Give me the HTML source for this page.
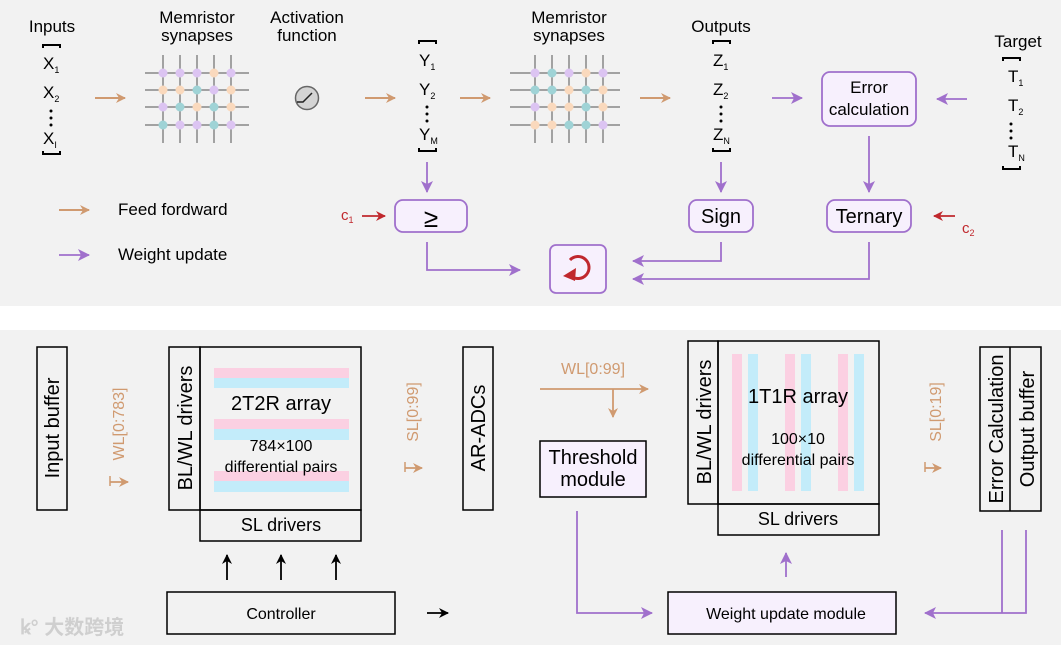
<!DOCTYPE html>
<html><head><meta charset="utf-8"><style>
body{margin:0;background:#fff}
svg{display:block;font-family:"Liberation Sans","Noto Sans CJK SC",sans-serif}
</style></head><body>
<svg width="1061" height="645" viewBox="0 0 1061 645" xmlns="http://www.w3.org/2000/svg">
<defs>
<marker id="ao" markerWidth="10" markerHeight="10" refX="9" refY="5" orient="auto" markerUnits="userSpaceOnUse"><path d="M0,0 L10,5 L0,10 L3,5z" fill="#d09a70"/></marker>
<marker id="ap" markerWidth="12" markerHeight="12" refX="11" refY="6" orient="auto" markerUnits="userSpaceOnUse"><path d="M0,0 L12,6 L0,12 L3,6z" fill="#a070cc"/></marker>
<marker id="ar" markerWidth="10" markerHeight="10" refX="9" refY="5" orient="auto" markerUnits="userSpaceOnUse"><path d="M0,0 L10,5 L0,10 L3,5z" fill="#c0282d"/></marker>
<marker id="ak" markerWidth="10" markerHeight="10" refX="9" refY="5" orient="auto" markerUnits="userSpaceOnUse"><path d="M0,0 L10,5 L0,10 L3,5z" fill="#000"/></marker>
</defs>
<rect x="0" y="0" width="1061" height="306" fill="#f2f2f2"/>
<rect x="0" y="330" width="1061" height="315" fill="#f2f2f2"/>

<g font-size="17" fill="#000" text-anchor="middle">
<text x="52" y="32">Inputs</text>
<text x="197" y="23">Memristor</text><text x="197" y="41">synapses</text>
<text x="307" y="23">Activation</text><text x="307" y="41">function</text>
<text x="569" y="23">Memristor</text><text x="569" y="41">synapses</text>
<text x="721" y="32">Outputs</text>
<text x="1018" y="47">Target</text>
</g>

<g fill="none" stroke="#000" stroke-width="2">
<path d="M43,45 h17 M43,44 v4 M60,44 v4 M43,154 h17 M43,155 v-4 M60,155 v-4"/>
<path d="M419,41 h17 M419,40 v4 M436,40 v4 M419,151 h17 M419,152 v-4 M436,152 v-4"/>
<path d="M713,41 h17 M713,40 v4 M730,40 v4 M713,151 h17 M713,152 v-4 M730,152 v-4"/>
<path d="M1003,58 h17 M1003,57 v4 M1020,57 v4 M1003,169 h17 M1003,170 v-4 M1020,170 v-4"/>
</g>
<g font-size="17" fill="#000">
<text x="43" y="69">X<tspan font-size="9" dy="4">1</tspan></text>
<text x="43" y="98">X<tspan font-size="9" dy="4">2</tspan></text>
<text x="43" y="144">X<tspan font-size="9" dy="4">I</tspan></text>
<text x="419" y="66">Y<tspan font-size="9" dy="4">1</tspan></text>
<text x="419" y="95">Y<tspan font-size="9" dy="4">2</tspan></text>
<text x="419" y="140">Y<tspan font-size="9" dy="4">M</tspan></text>
<text x="713" y="66">Z<tspan font-size="9" dy="4">1</tspan></text>
<text x="713" y="95">Z<tspan font-size="9" dy="4">2</tspan></text>
<text x="713" y="140">Z<tspan font-size="9" dy="4">N</tspan></text>
<text x="1008" y="82">T<tspan font-size="9" dy="4">1</tspan></text>
<text x="1008" y="111">T<tspan font-size="9" dy="4">2</tspan></text>
<text x="1008" y="157">T<tspan font-size="9" dy="4">N</tspan></text>
</g>
<g fill="#000">
<circle cx="51" cy="111" r="1.5"/><circle cx="51" cy="118" r="1.5"/><circle cx="51" cy="125" r="1.5"/>
<circle cx="427" cy="107" r="1.5"/><circle cx="427" cy="114" r="1.5"/><circle cx="427" cy="121" r="1.5"/>
<circle cx="721" cy="107" r="1.5"/><circle cx="721" cy="114" r="1.5"/><circle cx="721" cy="121" r="1.5"/>
<circle cx="1011" cy="124" r="1.5"/><circle cx="1011" cy="131" r="1.5"/><circle cx="1011" cy="138" r="1.5"/>
</g>

<g stroke="#888" stroke-width="1.5">
<path d="M163,55v88M180,55v88M197,55v88M214,55v88M231,55v88M145,73h104M145,90h104M145,107h104M145,125h104"/>
<path d="M535,55v88M552,55v88M569,55v88M586,55v88M603,55v88M510,73h110M510,90h110M510,107h110M510,125h110"/>
</g>
<g>
<circle cx="163" cy="73" r="4.5" fill="#dcc4f2"/><circle cx="180" cy="73" r="4.5" fill="#dcc4f2"/><circle cx="197" cy="73" r="4.5" fill="#dcc4f2"/><circle cx="214" cy="73" r="4.5" fill="#fad9bd"/><circle cx="231" cy="73" r="4.5" fill="#dcc4f2"/>
<circle cx="163" cy="90" r="4.5" fill="#fad9bd"/><circle cx="180" cy="90" r="4.5" fill="#fad9bd"/><circle cx="197" cy="90" r="4.5" fill="#9fd3d6"/><circle cx="214" cy="90" r="4.5" fill="#dcc4f2"/><circle cx="231" cy="90" r="4.5" fill="#fad9bd"/>
<circle cx="163" cy="107" r="4.5" fill="#dcc4f2"/><circle cx="180" cy="107" r="4.5" fill="#9fd3d6"/><circle cx="197" cy="107" r="4.5" fill="#fad9bd"/><circle cx="214" cy="107" r="4.5" fill="#9fd3d6"/><circle cx="231" cy="107" r="4.5" fill="#fad9bd"/>
<circle cx="163" cy="125" r="4.5" fill="#9fd3d6"/><circle cx="180" cy="125" r="4.5" fill="#dcc4f2"/><circle cx="197" cy="125" r="4.5" fill="#dcc4f2"/><circle cx="214" cy="125" r="4.5" fill="#9fd3d6"/><circle cx="231" cy="125" r="4.5" fill="#dcc4f2"/>
<circle cx="535" cy="73" r="4.5" fill="#dcc4f2"/><circle cx="552" cy="73" r="4.5" fill="#9fd3d6"/><circle cx="569" cy="73" r="4.5" fill="#dcc4f2"/><circle cx="586" cy="73" r="4.5" fill="#fad9bd"/><circle cx="603" cy="73" r="4.5" fill="#dcc4f2"/>
<circle cx="535" cy="90" r="4.5" fill="#9fd3d6"/><circle cx="552" cy="90" r="4.5" fill="#9fd3d6"/><circle cx="569" cy="90" r="4.5" fill="#fad9bd"/><circle cx="586" cy="90" r="4.5" fill="#9fd3d6"/><circle cx="603" cy="90" r="4.5" fill="#fad9bd"/>
<circle cx="535" cy="107" r="4.5" fill="#dcc4f2"/><circle cx="552" cy="107" r="4.5" fill="#fad9bd"/><circle cx="569" cy="107" r="4.5" fill="#fad9bd"/><circle cx="586" cy="107" r="4.5" fill="#9fd3d6"/><circle cx="603" cy="107" r="4.5" fill="#fad9bd"/>
<circle cx="535" cy="125" r="4.5" fill="#fad9bd"/><circle cx="552" cy="125" r="4.5" fill="#fad9bd"/><circle cx="569" cy="125" r="4.5" fill="#9fd3d6"/><circle cx="586" cy="125" r="4.5" fill="#9fd3d6"/><circle cx="603" cy="125" r="4.5" fill="#dcc4f2"/>
</g>
<circle cx="307" cy="98" r="11.5" fill="#d4d4d4" stroke="#666" stroke-width="1.5"/>
<path d="M297,102 h6 l9,-9" fill="none" stroke="#222" stroke-width="1.5"/>

<g stroke="#d09a70" stroke-width="2" marker-end="url(#ao)">
<line x1="95" y1="98" x2="125" y2="98"/><line x1="365" y1="98" x2="395" y2="98"/>
<line x1="460" y1="98" x2="490" y2="98"/><line x1="640" y1="98" x2="670" y2="98"/>
<line x1="59" y1="210" x2="89" y2="210"/>
</g>
<g stroke="#a070cc" stroke-width="1.8" fill="none" marker-end="url(#ap)">
<line x1="772" y1="98" x2="802" y2="98"/><line x1="967" y1="99" x2="937" y2="99"/>
<line x1="869" y1="136" x2="869" y2="192"/><line x1="721" y1="162" x2="721" y2="192"/>
<line x1="427" y1="162" x2="427" y2="192"/>
<polyline points="427,242 427,270 520,270"/>
<polyline points="721,242 721,261 633,261"/>
<polyline points="869,242 869,279 633,279"/>
<line x1="59" y1="255" x2="89" y2="255"/>
</g>
<g font-size="17" fill="#000"><text x="118" y="215">Feed fordward</text><text x="118" y="260">Weight update</text></g>

<g fill="#f7f0fd" stroke="#a070cc" stroke-width="1.8">
<rect x="822" y="72" width="94" height="54" rx="8"/>
<rect x="827" y="200" width="84" height="32" rx="8"/>
<rect x="689" y="200" width="64" height="32" rx="8"/>
<rect x="395" y="200" width="72" height="32" rx="8"/>
<rect x="550" y="245" width="56" height="48" rx="6"/>
</g>
<g font-size="17" fill="#000" text-anchor="middle">
<text x="869" y="93">Error</text><text x="869" y="115">calculation</text>
</g>
<g font-size="20" fill="#000" text-anchor="middle">
<text x="869" y="223">Ternary</text><text x="721" y="223">Sign</text>
<text x="431" y="227" font-size="26">≥</text>
</g>
<path d="M570,260 A11,11 0 1 1 571,276" fill="none" stroke="#c0282d" stroke-width="3"/>
<path d="M563,276 L576,268 L575,281z" fill="#c0282d"/>
<g stroke="#c0282d" stroke-width="1.8" marker-end="url(#ar)">
<line x1="362" y1="216" x2="385" y2="216"/><line x1="955" y1="216" x2="934" y2="216"/>
</g>
<g fill="#c0282d" font-size="15"><text x="341" y="220">c<tspan font-size="9" dy="3">1</tspan></text><text x="962" y="233">c<tspan font-size="9" dy="3">2</tspan></text></g>

<g fill="none" stroke="#000" stroke-width="1.5">
<rect x="37" y="347" width="30" height="163"/>
<rect x="169" y="347" width="31" height="163"/>
<rect x="200" y="347" width="161" height="163"/>
<rect x="200" y="510" width="161" height="31"/>
<rect x="463" y="347" width="30" height="163"/>
<rect x="167" y="592" width="228" height="42"/>
<rect x="688" y="341" width="30" height="163"/>
<rect x="718" y="341" width="161" height="163"/>
<rect x="718" y="504" width="161" height="31"/>
<rect x="980" y="347" width="61" height="164"/>
<line x1="1010" y1="347" x2="1010" y2="511"/>
</g>
<rect x="540" y="441" width="106" height="56" fill="#f7f0fd" stroke="#000" stroke-width="1.5"/>
<rect x="668" y="592" width="228" height="42" fill="#f7f0fd" stroke="#000" stroke-width="1.5"/>
<g>
<rect x="214" y="368" width="135" height="10" fill="#fbd0e2"/><rect x="214" y="378" width="135" height="10" fill="#c3ecfa"/>
<rect x="214" y="419" width="135" height="10" fill="#fbd0e2"/><rect x="214" y="429" width="135" height="11" fill="#c3ecfa"/>
<rect x="214" y="471" width="135" height="10" fill="#fbd0e2"/><rect x="214" y="481" width="135" height="11" fill="#c3ecfa"/>
<rect x="732" y="354" width="10" height="137" fill="#fbd0e2"/><rect x="748" y="354" width="10" height="137" fill="#c3ecfa"/>
<rect x="785" y="354" width="10" height="137" fill="#fbd0e2"/><rect x="801" y="354" width="10" height="137" fill="#c3ecfa"/>
<rect x="838" y="354" width="10" height="137" fill="#fbd0e2"/><rect x="854" y="354" width="10" height="137" fill="#c3ecfa"/>
</g>
<g fill="#000" text-anchor="middle">
<text x="281" y="410" font-size="20">2T2R array</text>
<text x="281" y="451" font-size="16">784×100</text>
<text x="281" y="472" font-size="16">differential pairs</text>
<text x="281" y="531" font-size="18">SL drivers</text>
<text x="798" y="403" font-size="20">1T1R array</text>
<text x="798" y="444" font-size="16">100×10</text>
<text x="798" y="465" font-size="16">differential pairs</text>
<text x="798" y="525" font-size="18">SL drivers</text>
<text x="593" y="464" font-size="20">Threshold</text>
<text x="593" y="486" font-size="20">module</text>
<text x="281" y="619" font-size="16">Controller</text>
<text x="786" y="619" font-size="16">Weight update module</text>
<g font-size="20">
<text transform="translate(59,428) rotate(-90)">Input buffer</text>
<text transform="translate(192,428) rotate(-90)">BL/WL drivers</text>
<text transform="translate(485,428) rotate(-90)">AR-ADCs</text>
<text transform="translate(711,422) rotate(-90)">BL/WL drivers</text>
<text transform="translate(1003,429) rotate(-90)">Error Calculation</text>
<text transform="translate(1034,429) rotate(-90)">Output buffer</text>
</g>
</g>
<g fill="#d09a70" font-size="16" text-anchor="middle">
<text transform="translate(124,424) rotate(-90)">WL[0:783]</text>
<text transform="translate(418,412) rotate(-90)">SL[0:99]</text>
<text transform="translate(941,412) rotate(-90)">SL[0:19]</text>
<text x="593" y="374" font-size="16">WL[0:99]</text>
</g>
<g stroke="#d09a70" stroke-width="1.5" fill="none">
<path d="M110,476 v10"/><path d="M405,462 v10"/><path d="M925,462 v10"/>
</g>
<g stroke="#d09a70" stroke-width="1.8" marker-end="url(#ao)">
<line x1="110" y1="482" x2="128" y2="482"/><line x1="405" y1="468" x2="422" y2="468"/>
<line x1="925" y1="468" x2="941" y2="468"/>
<line x1="540" y1="389" x2="648" y2="389"/><line x1="613" y1="389" x2="613" y2="417"/>
</g>
<g stroke="#000" stroke-width="1.8" marker-end="url(#ak)">
<line x1="227" y1="580" x2="227" y2="555"/><line x1="281" y1="580" x2="281" y2="555"/>
<line x1="336" y1="580" x2="336" y2="555"/><line x1="427" y1="613" x2="448" y2="613"/>
</g>
<g stroke="#a070cc" stroke-width="1.8" fill="none" marker-end="url(#ap)">
<polyline points="577,511 577,613 652,613"/>
<line x1="786" y1="577" x2="786" y2="553"/>
<polyline points="1026,530 1026,613 925,613"/>
</g>
<line x1="1002" y1="530" x2="1002" y2="613" stroke="#a070cc" stroke-width="1.8"/>
<text x="20" y="634" font-size="20" fill="#cfcfcf" font-weight="bold">ꝃ° 大数跨境</text>
</svg>
</body></html>
